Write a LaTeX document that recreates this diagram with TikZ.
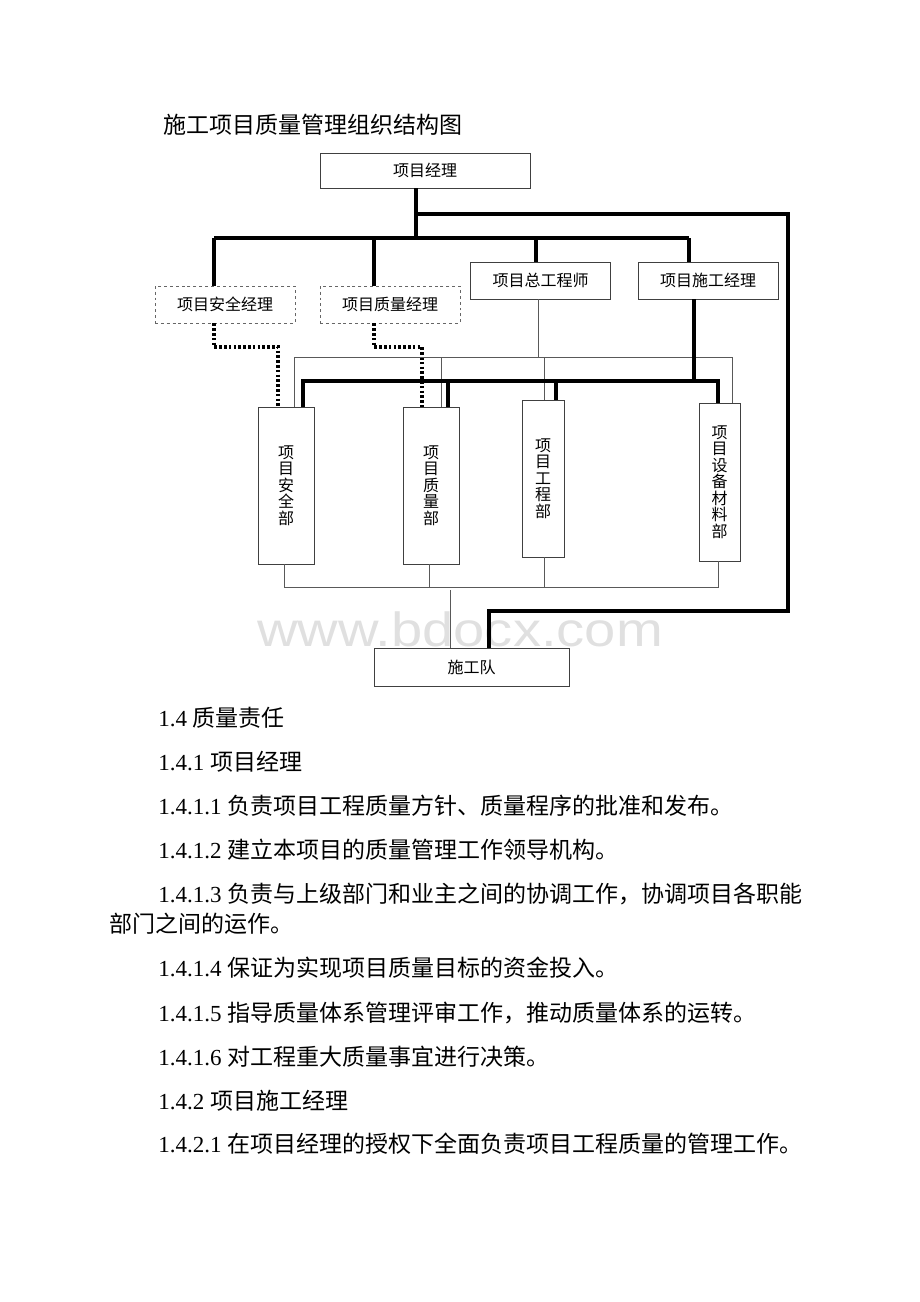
\documentclass[tikz,border=0pt]{standalone}
\usepackage{fontspec}
\setmainfont{Liberation Serif}
\newfontfamily\cjk{Noto Sans CJK SC}
\newfontfamily\wmfont{Liberation Sans}

\tikzset{
  box/.style={draw=black!75, line width=0.6pt, inner sep=0pt, align=center,
    font=\cjk\fontsize{12}{12.4}\selectfont},
  mgrbox/.style={box, minimum width=105pt, minimum height=27.75pt},
  dashbox/.style={mgrbox, draw=black!60, dash pattern=on 2.2pt off 2.2pt},
  deptbox/.style={box, minimum height=117.75pt},
  heavy/.style={line width=2.3pt},
  light/.style={draw=black!65, line width=0.6pt},
  dotline/.style={line width=2.3pt, dash pattern=on 2pt off 1.6pt},
  body/.style={anchor=west, inner sep=0pt, font=\fontsize{17.25}{20}\selectfont}
}

\begin{document}
\begin{tikzpicture}[x=0.75pt,y=-0.75pt]
\useasboundingbox (0,0) rectangle (920,1302);

%%watermark
\node[font=\wmfont\fontsize{36}{36}\selectfont, text=black!12, xscale=1.17, inner sep=0pt, anchor=base] (wm) at (460,646) {www.bdocx.com};

%%title
\node[body, font=\cjk\fontsize{17.25}{20}\selectfont] (title) at (163,125) {施工项目质量管理组织结构图};

%%boxes
\node[box, minimum width=157.5pt, minimum height=26.25pt] (pm) at (425,170.5) {项目经理};
\node[dashbox] (safemgr) at (225,304.5) {项目安全经理};
\node[dashbox] (qualmgr) at (390,304.5) {项目质量经理};
\node[mgrbox] (chiefeng) at (540.5,280.5) {项目总工程师};
\node[mgrbox] (conmgr) at (708,280.5) {项目施工经理};

\node[deptbox, minimum width=42pt] (safedept) at (286,485.5) {项\\目\\安\\全\\部};
\node[deptbox, minimum width=42pt] (qualdept) at (431,485.5) {项\\目\\质\\量\\部};
\node[deptbox, minimum width=31.5pt] (engdept) at (543,478.5) {项\\目\\工\\程\\部};
\node[deptbox, minimum width=30.75pt, minimum height=118.5pt] (matdept) at (719.5,482) {项\\目\\设\\备\\材\\料\\部};

\node[box, minimum width=146.25pt, minimum height=28.5pt] (team) at (471.5,667) {施工队};

%%thick lines from the project manager
\coordinate (split) at (416,214);
\coordinate (hub) at (416,238);
\draw[heavy] (pm.south -| hub) -- (hub);
\draw[heavy] (214,238) -- (689,238);
\foreach \x/\n in {214/safemgr,374/qualmgr,536/chiefeng,689/conmgr}
  \draw[heavy] (\x,238) -- (\n.north -| \x,0);
\draw[heavy] (split) -- (788,214) -- (788,611) -- (489,611) -- (team.north -| 489,0);

%%dotted lines
\draw[dotline] (safemgr.south -| 214,0) -- (214,347) -- (278,347) -- (safedept.north -| 278,0);
\draw[dotline] (qualmgr.south -| 374,0) -- (374,347) -- (422,347) -- (qualdept.north -| 422,0);

%%thin lines
\draw[light] (chiefeng.south -| 538,0) -- (538,357);
\draw[light] (safedept.north -| 294,0) -- (294,357) -- (732,357) -- (matdept.north -| 732,0);
\draw[light] (441,357) -- (qualdept.north -| 441,0);
\draw[light] (544,357) -- (engdept.north -| 544,0);

%%thick lines from the construction manager
\draw[heavy] (conmgr.south -| 694,0) -- (694,381);
\draw[heavy] (safedept.north -| 303,0) -- (303,381) -- (718,381) -- (matdept.north -| 718,0);
\draw[heavy] (448,381) -- (qualdept.north -| 448,0);
\draw[heavy] (556,381) -- (engdept.north -| 556,0);

%%bottom lines
\draw[light] (safedept.south -| 284,0) -- (284,587) -- (718,587) -- (matdept.south -| 718,0);
\draw[light] (qualdept.south -| 429,0) -- (429,587);
\draw[light] (engdept.south -| 544,0) -- (544,587);
\draw[light] (450,590) -- (team.north -| 450,0);

%%text
\node[body] (s14) at (158,718) {1.4 \cjk 质量责任};
\node[body] (s141) at (158,762) {1.4.1 \cjk 项目经理};
\node[body] (s1411) at (158,806) {1.4.1.1 \cjk 负责项目工程质量方针、质量程序的批准和发布。};
\node[body] (s1412) at (158,850) {1.4.1.2 \cjk 建立本项目的质量管理工作领导机构。};
\node[body] (s1413) at (158,894) {1.4.1.3 \cjk 负责与上级部门和业主之间的协调工作，协调项目各职能};
\node[body] (s1413b) at (109,924) {\cjk 部门之间的运作。};
\node[body] (s1414) at (158,968) {1.4.1.4 \cjk 保证为实现项目质量目标的资金投入。};
\node[body] (s1415) at (158,1013) {1.4.1.5 \cjk 指导质量体系管理评审工作，推动质量体系的运转。};
\node[body] (s1416) at (158,1057) {1.4.1.6 \cjk 对工程重大质量事宜进行决策。};
\node[body] (s142) at (158,1101) {1.4.2 \cjk 项目施工经理};
\node[body] (s1421) at (158,1144) {1.4.2.1 \cjk 在项目经理的授权下全面负责项目工程质量的管理工作。};

\end{tikzpicture}
\end{document}
